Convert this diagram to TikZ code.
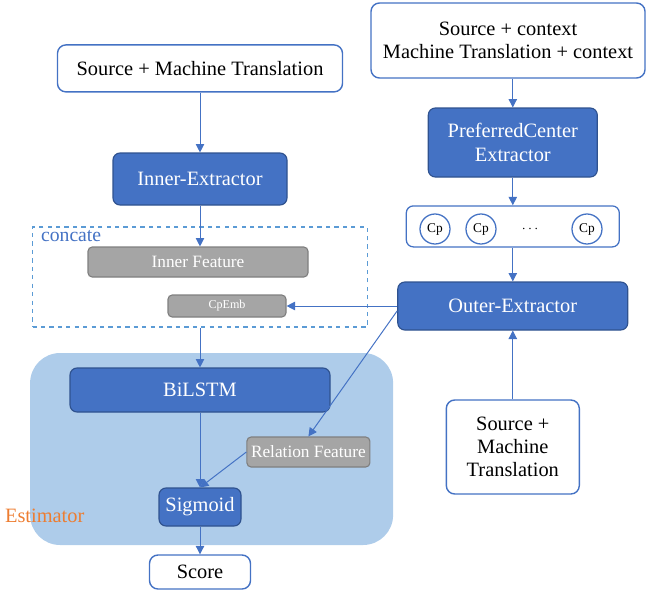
\documentclass[tikz,border=0pt]{standalone}
\usepackage{fontspec}
\setmainfont{LiberationSerif}[Extension=.ttf,UprightFont=*-Regular,BoldFont=*-Bold,ItalicFont=*-Italic]
\usepackage{tikz}
\usetikzlibrary{arrows.meta,positioning,calc}
\usepackage{xcolor}
\definecolor{ofblue}{HTML}{4472C4}
\definecolor{ofdark}{HTML}{2F528F}
\definecolor{ofsky}{HTML}{5B9BD5}
\definecolor{ofpale}{HTML}{AECCEA}
\definecolor{ofgray}{HTML}{A5A5A5}
\definecolor{ofgrayd}{HTML}{7F7F7F}
\definecolor{oforange}{HTML}{ED7D31}

\begin{document}
\begin{tikzpicture}[
    inbox/.style={draw=ofblue,line width=1pt,fill=white,rounded corners=6pt,align=center,
        font=\fontsize{14.5}{16.5}\selectfont,minimum width=#1,inner sep=2pt},
    module/.style={draw=ofdark,line width=0.8pt,fill=ofblue,text=white,rounded corners=5pt,align=center,
        font=\fontsize{14.5}{16.5}\selectfont,minimum width=#1,inner sep=2pt},
    feat/.style={draw=ofgrayd,line width=0.8pt,fill=ofgray,text=white,rounded corners=3pt,
        minimum width=#1,inner sep=1pt},
    cp/.style={circle,draw=ofblue,line width=0.9pt,fill=white,minimum size=0.75cm,inner sep=0pt,
        font=\fontsize{9.5}{11}\selectfont},
    arr/.style={-{Triangle[length=6pt,width=6pt]},line width=0.7pt,ofblue}
]
\useasboundingbox (0,0) rectangle (16.225,-14.775);

% estimator block and concatenation frame
\node[fill=ofpale,rounded corners=0.75cm,minimum width=9.075cm,minimum height=4.8cm] (est) at (5.29,-11.225) {};
\node[draw=ofsky,dashed,line width=0.8pt,minimum width=8.375cm,minimum height=2.5cm] (concat) at (5.0,-6.925) {};
\node[anchor=west,text=ofblue,font=\fontsize{14}{16}\selectfont,inner sep=0pt] (concatlbl) at (1.02,-5.9) {concate};
\node[anchor=west,text=oforange,font=\fontsize{14.5}{16}\selectfont,inner sep=0pt] (estlbl) at (0.12,-12.9) {Estimator};

% left column
\node[inbox=7.125cm,minimum height=1.175cm] (srcL) at (5.0,-1.71) {Source + Machine Translation};
\node[module=4.35cm,minimum height=1.3cm] (inner) at (5.0,-4.475) {Inner-Extractor};
\node[feat=5.5cm,minimum height=0.75cm,font=\fontsize{12.3}{14}\selectfont] (innerfeat) at (4.95,-6.55) {Inner Feature};
\node[feat=2.95cm,minimum height=0.55cm,font=\fontsize{8.6}{10}\selectfont] (cpemb) at (5.675,-7.65) {CpEmb};
\node[module=6.5cm,minimum height=1.1cm] (bilstm) at (5.0,-9.75) {BiLSTM};
\node[feat=3.075cm,minimum height=0.75cm,font=\fontsize{12.3}{14}\selectfont] (relfeat) at (7.71,-11.3) {Relation Feature};
\node[module=2.05cm,minimum height=0.95cm] (sigmoid) at (5.0,-12.675) {Sigmoid};
\node[inbox=2.525cm,minimum height=0.85cm] (score) at (5.0,-14.3) {Score};

% right column
\node[inbox=6.85cm,minimum height=1.875cm] (srcR) at (12.7,-1.0125) {Source + context\\Machine Translation + context};
\node[module=4.225cm,minimum height=1.725cm] (pce) at (12.82,-3.5625) {PreferredCenter\\Extractor};
\node[draw=ofblue,line width=0.9pt,fill=white,rounded corners=5pt,minimum width=5.325cm,minimum height=1.025cm] (cpset) at (12.82,-5.66) {};
\node[cp] (cp1) at (10.875,-5.725) {Cp};
\node[cp] (cp2) at (12.025,-5.725) {Cp};
\node[cp] (cp3) at (14.675,-5.725) {Cp};
\node (dots) at (13.25,-5.725) {$\cdots$};
\node[module=5.75cm,minimum height=1.2cm] (outer) at (12.82,-7.65) {Outer-Extractor};
\node[inbox=3.325cm,minimum height=2.35cm] (srcB) at (12.82,-11.175) {Source +\\Machine\\Translation};

\draw[arr] (srcL) -- (inner);
\draw[arr] (inner.south) -- (inner.south |- innerfeat.north);
\draw[arr] (concat.south) -- (bilstm.north);
\draw[arr] (outer.west) -- (cpemb.east);
\draw[arr] ([yshift=-0.12cm]outer.west) -- (relfeat.north);
\draw[arr] (bilstm.south) -- (sigmoid.north);
\draw[arr] (relfeat.west) -- (sigmoid.north);
\draw[arr] (sigmoid) -- (score);

\draw[arr] (pce |- srcR.south) -- (pce.north);
\draw[arr] (pce) -- (cpset);
\draw[arr] (cpset) -- (outer);
\draw[arr] (srcB) -- (outer);
\end{tikzpicture}
\end{document}
